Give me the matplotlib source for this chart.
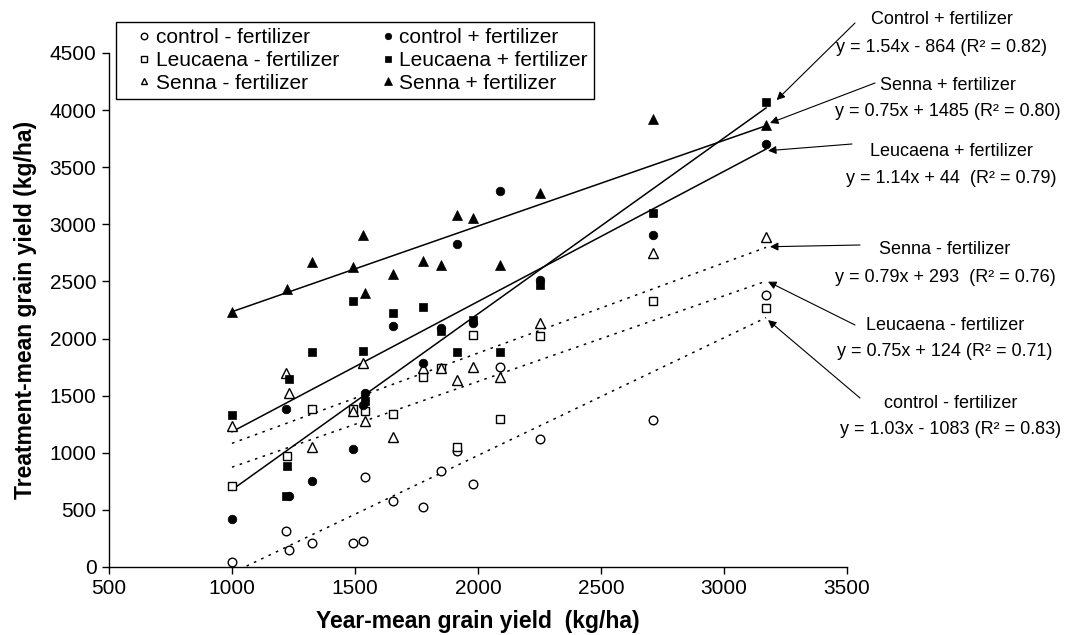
import numpy as np
import matplotlib as mpl
mpl.use('Agg')
import matplotlib.pyplot as plt

mpl.rcParams['font.family'] = ['Liberation Sans', 'DejaVu Sans']

W, H = 1065, 635  # figure size in pixels

# ---- data (kg/ha) ----
# control - fertilizer (open circle)
ctrl_nf_x = [1000, 1220, 1230, 1325, 1492, 1532, 1540, 1655, 1776, 1850, 1915, 1980, 2089, 2252, 2711, 3171]
ctrl_nf_y = [41, 315, 149, 210, 213, 225, 791, 578, 525, 843, 1018, 727, 1748, 1118, 1284, 2381]
# control + fertilizer (filled circle)
ctrl_f_x = [1000, 1220, 1230, 1325, 1492, 1532, 1540, 1655, 1776, 1850, 1915, 1980, 2089, 2252, 2711, 3171]
ctrl_f_y = [420, 1381, 624, 756, 1036, 1420, 1520, 2110, 1783, 2090, 2825, 2140, 3292, 2510, 2907, 3703]
# Leucaena - fertilizer (open square)
leu_nf_x = [1000, 1225, 1325, 1492, 1540, 1655, 1776, 1850, 1915, 1980, 2089, 2252, 2711, 3171]
leu_nf_y = [709, 975, 1381, 1381, 1369, 1337, 1661, 1745, 1048, 2031, 1296, 2022, 2329, 2270]
# Leucaena + fertilizer (filled square)
leu_f_x = [1000, 1230, 1225, 1220, 1325, 1492, 1532, 1540, 1655, 1776, 1850, 1915, 1980, 2089, 2252, 2711, 3171]
leu_f_y = [1331, 1643, 884, 625, 1880, 2329, 1888, 1450, 2226, 2279, 2065, 1882, 2162, 1885, 2470, 3097, 4074]
# Senna - fertilizer (open triangle)
sen_nf_x = [1000, 1220, 1230, 1325, 1492, 1532, 1540, 1655, 1776, 1850, 1915, 1980, 2089, 2252, 2711, 3171]
sen_nf_y = [1234, 1701, 1521, 1053, 1370, 1783, 1278, 1136, 1740, 1745, 1637, 1748, 1666, 2139, 2752, 2887]
# Senna + fertilizer (filled triangle)
sen_f_x = [1000, 1225, 1325, 1492, 1532, 1540, 1655, 1776, 1850, 1915, 1980, 2089, 2252, 2711, 3171]
sen_f_y = [2230, 2434, 2670, 2629, 2907, 2399, 2562, 2676, 2641, 3079, 3055, 2644, 3277, 3919, 3870]

# regression lines as printed on the chart
fit_names = ['Control + fertilizer', 'Senna + fertilizer', 'Leucaena + fertilizer',
             'Senna - fertilizer', 'Leucaena - fertilizer', 'control - fertilizer']
fit_eqs = ['y = 1.54x - 864 (R\u00b2 = 0.82)', 'y = 0.75x + 1485 (R\u00b2 = 0.80)',
           'y = 1.14x + 44  (R\u00b2 = 0.79)', 'y = 0.79x + 293  (R\u00b2 = 0.76)',
           'y = 0.75x + 124 (R\u00b2 = 0.71)', 'y = 1.03x - 1083 (R\u00b2 = 0.83)']
fit_slope = [1.54, 0.75, 1.14, 0.79, 0.75, 1.03]
fit_icpt = [-864, 1485, 44, 293, 124, -1083]
fit_solid = [True, True, True, False, False, False]
fit_x0, fit_x1 = 1000, 3171

# arrow heads (data) / tails and text centres (figure pixels, from top)
arrow_head = [(3214, 4088), (3187, 3887), (3179, 3645), (3187, 2804), (3179, 2498), (3179, 2162)]
arrow_tail = [(855, 23), (875, 83), (852, 144), (860, 245), (855, 325), (860, 398)]
text_pos = [(942, 20, 47), (948, 86, 111), (951, 152, 178), (945, 250, 277), (945, 325, 352), (951, 403, 430)]

fig = plt.figure(figsize=(W / 100, H / 100), dpi=100)
ax = fig.add_axes([109 / W, 68 / H, 738 / W, 514 / H])

for s, b, solid in zip(fit_slope, fit_icpt, fit_solid):
    xx = np.array([fit_x0, fit_x1])
    ax.plot(xx, s * xx + b, color='black', lw=1.1 if solid else 1.1,
            ls='-' if solid else (0, (1.7, 3.6)), zorder=2)

open_kw = dict(ls='none', mfc='white', mec='black', mew=1.0, zorder=3)
fill_kw = dict(ls='none', mfc='black', mec='black', mew=0.5, zorder=3)
h1, = ax.plot(ctrl_nf_x, ctrl_nf_y, marker='o', ms=6.2, label='control - fertilizer', **open_kw)
h2, = ax.plot(leu_nf_x, leu_nf_y, marker='s', ms=5.4, label='Leucaena - fertilizer', **open_kw)
h3, = ax.plot(sen_nf_x, sen_nf_y, marker='^', ms=6.6, label='Senna - fertilizer', **open_kw)
h4, = ax.plot(ctrl_f_x, ctrl_f_y, marker='o', ms=6.2, label='control + fertilizer', **fill_kw)
h5, = ax.plot(leu_f_x, leu_f_y, marker='s', ms=5.4, label='Leucaena + fertilizer', **fill_kw)
h6, = ax.plot(sen_f_x, sen_f_y, marker='^', ms=7, label='Senna + fertilizer', **fill_kw)

ax.set_xlim(500, 3500)
ax.set_ylim(0, 4500)
ax.set_xticks(np.arange(500, 3501, 500))
ax.set_yticks(np.arange(0, 4501, 500))
for side in ['top', 'right']:
    ax.spines[side].set_visible(False)
for side in ['left', 'bottom']:
    ax.spines[side].set_linewidth(1.0)
ax.tick_params(direction='out', length=5, width=1.0, labelsize=15, pad=4)
ax.set_xlabel('Year-mean grain yield  (kg/ha)', fontsize=16.5, fontweight='bold', labelpad=8)
ax.set_ylabel('Treatment-mean grain yield (kg/ha)', fontsize=16.5, fontweight='bold', labelpad=9)

leg = ax.legend(handles=[h1, h2, h3, h4, h5, h6], ncol=2, loc='upper left',
                bbox_to_anchor=(116 / W, 1 - 22 / H), bbox_transform=fig.transFigure,
                borderaxespad=0, fontsize=15, frameon=True, fancybox=False,
                edgecolor='black', framealpha=1, handlelength=2.1, handletextpad=-0.5,
                labelspacing=0.18, columnspacing=1.3, borderpad=0.3, markerscale=0.75)
leg.get_frame().set_linewidth(1.0)

for name, eq, (cx, y1, y2) in zip(fit_names, fit_eqs, text_pos):
    fig.text(cx / W, 1 - y1 / H, name, ha='center', va='center', fontsize=13)
    fig.text(cx / W, 1 - y2 / H, eq, ha='center', va='center', fontsize=13)

for head, tail in zip(arrow_head, arrow_tail):
    ax.annotate('', xy=head, xycoords='data',
                xytext=(tail[0], H - tail[1]), textcoords='figure pixels',
                arrowprops=dict(arrowstyle='-|>', color='black', lw=0.8,
                                mutation_scale=12, shrinkA=0, shrinkB=0),
                annotation_clip=False)

fig.savefig('out.png', dpi=100)
